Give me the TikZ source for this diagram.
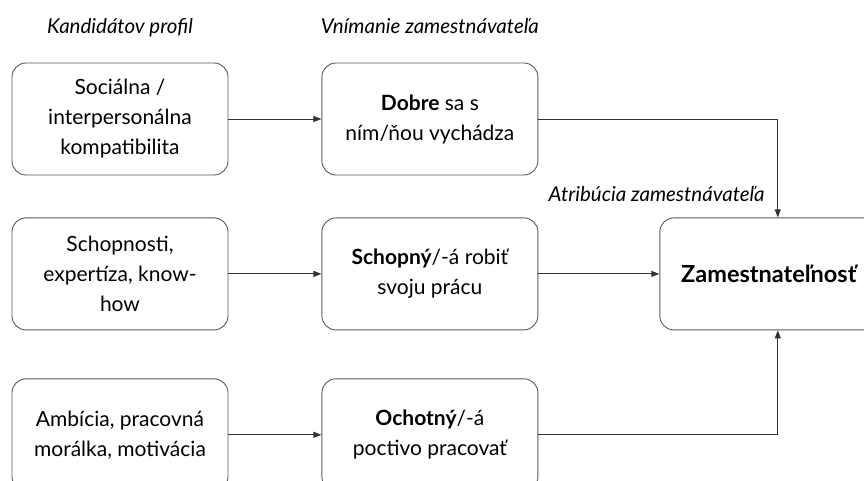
\documentclass[tikz,border=0pt]{standalone}
\usepackage{fontspec}
\setmainfont{Lato}
\usetikzlibrary{arrows.meta,positioning}

\begin{document}
\begin{tikzpicture}[
  x=1pt, y=1pt,
  node distance=42pt and 93pt,
  box/.style={rectangle, draw=black!65, line width=0.9pt, rounded corners=14pt, minimum width=216pt, minimum height=112pt, align=center, font=\fontsize{21}{30}\selectfont},
  head/.style={inner sep=0pt, text height=16pt, text depth=5pt, font=\fontsize{20.5}{24}\selectfont\itshape},
  arrow/.style={-{Triangle[length=8pt,width=6pt]}, line width=0.9pt, draw=black!80},
]
\useasboundingbox (0,0) rectangle (864,-481);

% Candidate profile
\node[box] (social) at (120,-119) {Sociálna /\\interpersonálna\\kompatibilita};
\node[box, below=of social] (skills) {Schopnosti,\\expertíza, know-\\how};
\node[box, below=48pt of skills] (ambition) {Ambícia, pracovná\\morálka, motivácia};

% Employer perception
\node[box, right=of social] (getalong) {\textbf{Dobre} sa s\\ním/ňou vychádza};
\node[box, right=of skills] (able) {\textbf{Schopný}/-á robiť\\svoju prácu};
\node[box, right=of ambition] (willing) {\textbf{Ochotný}/-á\\poctivo pracovať};

% Outcome
\node[box, right=121pt of able, minimum width=218pt, font=\fontsize{23.5}{30}\selectfont\bfseries] (employ) {Zamestnateľnosť};

% Column titles
\node[head, above=24pt of social] (profile) {Kandidátov profil};
\node[head, above=24pt of getalong] (perception) {Vnímanie zamestnávateľa};
\node[head, anchor=south east] (attribution) at ([shift={(-4pt,11pt)}]employ.north) {Atribúcia zamestnávateľa};

% Arrows
\draw[arrow] (social) -- (getalong);
\draw[arrow] (skills) -- (able);
\draw[arrow] (ambition) -- (willing);
\draw[arrow] (getalong.east) -| ([xshift=9pt]employ.north);
\draw[arrow] (able) -- (employ);
\draw[arrow] (willing.east) -| ([xshift=9pt]employ.south);

\end{tikzpicture}
\end{document}
